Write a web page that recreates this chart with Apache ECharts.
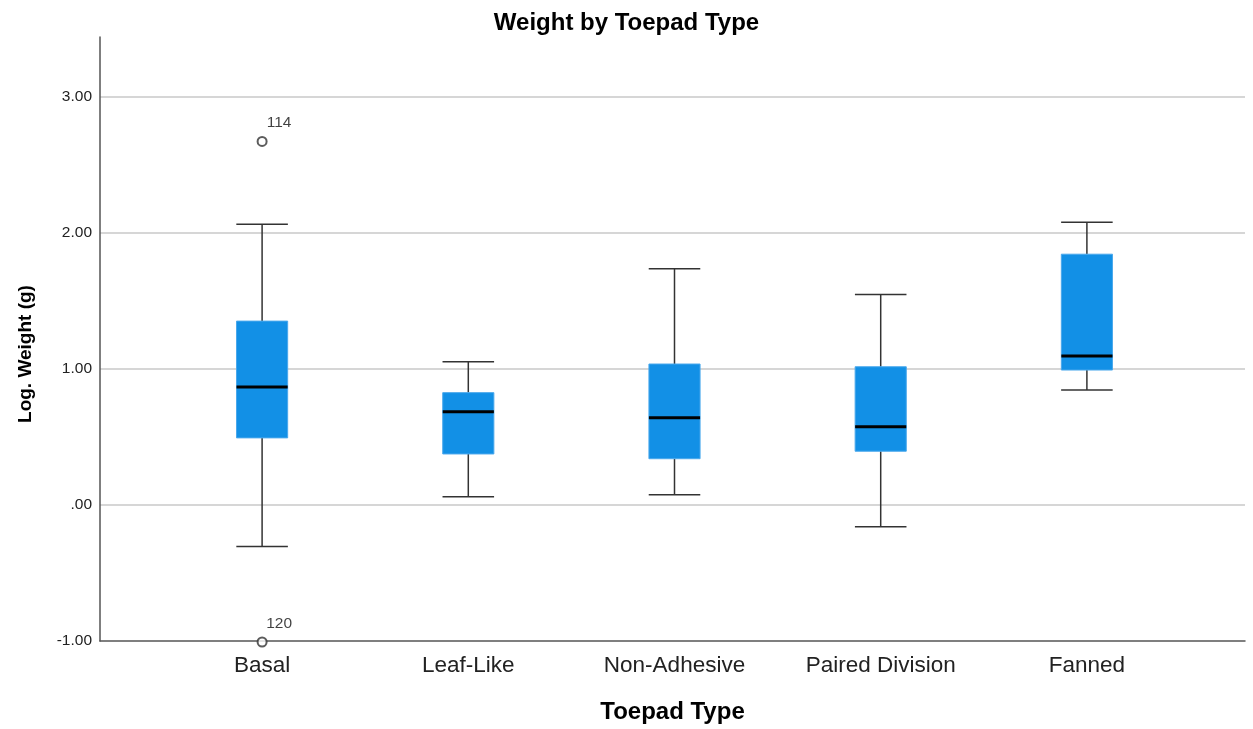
<!DOCTYPE html>
<html>
<head>
<meta charset="utf-8">
<script src="https://cdn.jsdelivr.net/npm/echarts@6/dist/echarts.min.js"></script>
<style>html,body{margin:0;padding:0;background:#fff}#c{width:1253px;height:729px}</style>
</head>
<body>
<div id="c"></div>
<script>
const categories = ['Basal', 'Leaf-Like', 'Non-Adhesive', 'Paired Division', 'Fanned'];
// [low whisker, Q1, median, Q3, high whisker]
const lowWhisker = [-0.30, 0.066, 0.08, -0.154, 0.85];
const q1 = [0.498, 0.38, 0.345, 0.40, 0.996];
const median = [0.872, 0.69, 0.645, 0.58, 1.099];
const q3 = [1.355, 0.83, 1.04, 1.02, 1.846];
const highWhisker = [2.066, 1.057, 1.74, 1.55, 2.08];
const outliers = [ // [category index, value, case id]
  [0, 2.674, '114'],
  [0, -1.0, '120']
];
const yTicks = [-1, 0, 1, 2, 3];
const yMin = -1, yMax = 3.44;

const boxData = categories.map((c, i) => [i, lowWhisker[i], q1[i], median[i], q3[i], highWhisker[i]]);

const fmtY = v => {
  if (v === 0) return '.00';
  return v.toFixed(2);
};

const chart = echarts.init(document.getElementById('c'), null, {renderer: 'canvas'});
const font = 'Liberation Sans, Arial, sans-serif';

const option = {
  animation: false,
  backgroundColor: '#fff',
  textStyle: {fontFamily: font},
  title: {
    text: 'Weight by Toepad Type',
    left: 'center', top: 6,
    textStyle: {fontSize: 24, fontWeight: 'bold', color: '#000', fontFamily: font}
  },
  grid: [
    {left: 100, right: 8, top: 37, bottom: 87},
    {left: 159, right: 63, top: 37, bottom: 87}
  ],
  xAxis: [
    {
      gridIndex: 0, type: 'value', min: 0, max: 1,
      axisLine: {show: true, onZero: false, lineStyle: {color: '#555', width: 1.5}},
      axisTick: {show: false}, axisLabel: {show: false}, splitLine: {show: false},
      name: 'Toepad Type', nameLocation: 'middle', nameGap: 59,
      nameTextStyle: {fontSize: 24, fontWeight: 'bold', color: '#000', fontFamily: font}
    },
    {
      gridIndex: 1, type: 'category', data: categories, boundaryGap: true,
      axisLine: {show: false, onZero: false}, axisTick: {show: false}, splitLine: {show: false},
      axisLabel: {fontSize: 22.5, color: '#222', margin: 12, fontFamily: font, interval: 0}
    }
  ],
  yAxis: [
    {
      gridIndex: 0, type: 'value', min: yMin, max: yMax, interval: 1,
      axisLine: {show: true, onZero: false, lineStyle: {color: '#555', width: 1.5}},
      axisTick: {show: false},
      axisLabel: {
        fontSize: 15.5, color: '#222', margin: 8, fontFamily: font, showMaxLabel: false,
        formatter: v => (yTicks.indexOf(v) >= 0 ? fmtY(v) : '')
      },
      splitLine: {show: true, showMaxLine: false, showMinLine: false, lineStyle: {color: '#c8c8c8', width: 1.5}},
      name: 'Log. Weight (g)', nameLocation: 'middle', nameGap: 65, nameRotate: 90,
      nameTextStyle: {fontSize: 19, fontWeight: 'bold', color: '#000', fontFamily: font, padding: [0, 30, 0, 0]}
    },
    {
      gridIndex: 1, type: 'value', min: yMin, max: yMax, interval: 1, show: false,
      splitLine: {show: false}
    }
  ],
  series: [
    {
      type: 'custom',
      xAxisIndex: 1, yAxisIndex: 1,
      data: boxData,
      encode: {x: 0, y: [1, 2, 3, 4, 5]},
      renderItem: function (params, api) {
        const x = api.value(0);
        const pLow = api.coord([x, api.value(1)]);
        const pQ1 = api.coord([x, api.value(2)]);
        const pMed = api.coord([x, api.value(3)]);
        const pQ3 = api.coord([x, api.value(4)]);
        const pHigh = api.coord([x, api.value(5)]);
        const band = api.size([1, 0])[0];
        const bw = band * 0.248;
        const cw = band * 0.125;
        const cx = pMed[0];
        const lineStyle = {stroke: '#333', lineWidth: 1.5};
        return {
          type: 'group',
          children: [
            {type: 'line', shape: {x1: cx, y1: pHigh[1], x2: cx, y2: pQ3[1]}, style: lineStyle},
            {type: 'line', shape: {x1: cx, y1: pQ1[1], x2: cx, y2: pLow[1]}, style: lineStyle},
            {type: 'line', shape: {x1: cx - cw, y1: pHigh[1], x2: cx + cw, y2: pHigh[1]}, style: lineStyle},
            {type: 'line', shape: {x1: cx - cw, y1: pLow[1], x2: cx + cw, y2: pLow[1]}, style: lineStyle},
            {type: 'rect', shape: {x: cx - bw / 2, y: pQ3[1], width: bw, height: pQ1[1] - pQ3[1]},
              style: {fill: '#1290e6', stroke: '#4aa8ec', lineWidth: 1}},
            {type: 'line', shape: {x1: cx - bw / 2, y1: pMed[1], x2: cx + bw / 2, y2: pMed[1]},
              style: {stroke: '#000', lineWidth: 3}}
          ]
        };
      },
      z: 3
    },
    {
      type: 'scatter',
      xAxisIndex: 1, yAxisIndex: 1,
      data: outliers.map(o => ({value: [o[0], o[1]], name: o[2]})),
      symbol: 'emptyCircle', symbolSize: 9,
      itemStyle: {color: '#333', borderColor: '#333', borderWidth: 1.5},
      label: {
        show: true, position: 'top', offset: [17, 0],
        formatter: p => p.name, fontSize: 15.5, color: '#111', fontFamily: font
      },
      z: 4
    }
  ]
};
chart.setOption(option);
</script>
</body>
</html>
